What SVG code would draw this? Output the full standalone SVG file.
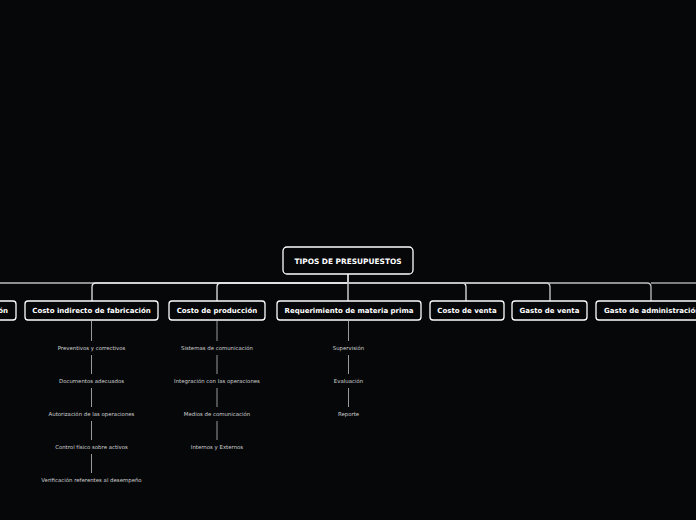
<svg xmlns="http://www.w3.org/2000/svg" width="696" height="520" viewBox="0 0 696 520">
<style>
.bg{fill:#060709}
.box{fill:#060709;stroke:#ffffff;stroke-width:1.3}
.t{font-family:"DejaVu Sans",Verdana,sans-serif;font-weight:bold;fill:#ffffff;text-anchor:middle}
.c{fill:none;stroke:#e6e6e6;stroke-width:1.3}
.s{fill:none;stroke:#9a9a9a;stroke-width:1}
.sub{font-family:"DejaVu Sans",Verdana,sans-serif;font-size:5.4px;fill:#d0d0d0;text-anchor:middle}
</style>
<rect class="bg" x="0" y="0" width="696" height="520"/>
<g id="connectors">
<path class="c" style="stroke:#bdbdbd" d="M348 274 V283 H-60 V301"/>
<path class="c" d="M348 274 V283 H96 Q92 283 92 287 V301"/>
<path class="c" d="M348 274 V283 H221 Q217 283 217 287 V301"/>
<path class="c" d="M348 274 V301"/>
<path class="c" d="M348 274 V283 H462 Q466 283 466 287 V301"/>
<path class="c" style="stroke:#d0d0d0" d="M348 274 V283 H546 Q550 283 550 287 V301"/>
<path class="c" style="stroke:#c0c0c0" d="M348 274 V283 H647 Q651 283 651 287 V301"/>
<path class="c" style="stroke:#a8a8a8" d="M651 283 H700"/>
<path class="s" d="M91.5 321 V341 M91.5 355 V374 M91.5 388 V407 M91.5 421 V440 M91.5 454 V473"/>
<path class="s" d="M217 321 V341 M217 355 V374 M217 388 V407 M217 421 V440"/>
<path class="s" d="M348.5 321 V341 M348.5 355 V374 M348.5 388 V407"/>
</g>
<g id="root">
<rect class="box" x="283" y="247" width="130" height="27" rx="4"/>
<text class="t" x="348" y="264" font-size="7.4">TIPOS DE PRESUPUESTOS</text>
</g>
<g id="n0">
<rect class="box" x="-110" y="301" width="126" height="19" rx="3"/>
<text class="t" x="8" y="313" font-size="7" style="text-anchor:end">Gasto de financiación</text>
</g>
<g id="n1">
<rect class="box" x="25" y="301" width="133" height="19" rx="3"/>
<text class="t" x="91.5" y="313" font-size="7">Costo indirecto de fabricación</text>
</g>
<g id="n2">
<rect class="box" x="169" y="301" width="96" height="19" rx="3"/>
<text class="t" x="217" y="313" font-size="7">Costo de producción</text>
</g>
<g id="n3">
<rect class="box" x="277" y="301" width="144" height="19" rx="3"/>
<text class="t" x="349" y="313" font-size="7">Requerimiento de materia prima</text>
</g>
<g id="n4">
<rect class="box" x="430" y="301" width="74" height="19" rx="3"/>
<text class="t" x="467" y="313" font-size="7">Costo de venta</text>
</g>
<g id="n5">
<rect class="box" x="512" y="301" width="75" height="19" rx="3"/>
<text class="t" x="549.5" y="313" font-size="7">Gasto de venta</text>
</g>
<g id="n6">
<rect class="box" x="596" y="301" width="112" height="19" rx="3"/>
<text class="t" x="604" y="313" font-size="7" style="text-anchor:start">Gasto de administración</text>
</g>
<g id="sub1">
<text class="sub" x="91.5" y="350">Preventivos y correctivos</text>
<text class="sub" x="91.5" y="383">Documentos adecuados</text>
<text class="sub" x="91.5" y="416">Autorización de las operaciones</text>
<text class="sub" x="91.5" y="449">Control físico sobre activos</text>
<text class="sub" x="91.5" y="482">Verificación referentes al desempeño</text>
</g>
<g id="sub2">
<text class="sub" x="217" y="350">Sistemas de comunicación</text>
<text class="sub" x="217" y="383">Integración con las operaciones</text>
<text class="sub" x="217" y="416">Medios de comunicación</text>
<text class="sub" x="217" y="449">Internos y Externos</text>
</g>
<g id="sub3">
<text class="sub" x="348.5" y="350">Supervisión</text>
<text class="sub" x="348.5" y="383">Evaluación</text>
<text class="sub" x="348.5" y="416">Reporte</text>
</g>
</svg>
